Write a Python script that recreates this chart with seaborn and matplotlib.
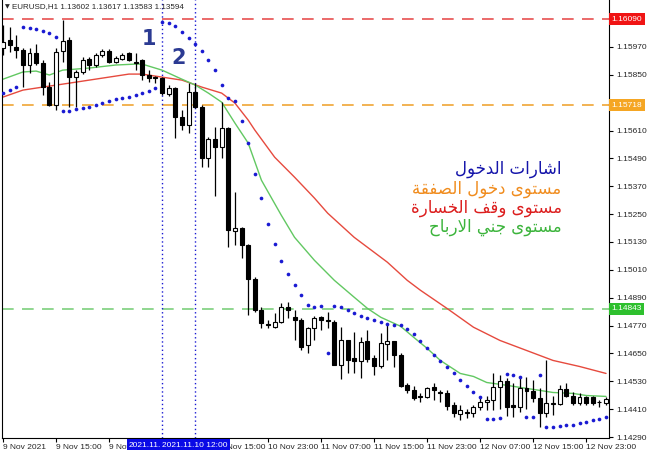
import numpy as np
import matplotlib
matplotlib.use('Agg')
import matplotlib.pyplot as plt
import matplotlib.transforms as mtransforms
import seaborn as sns

# H1 candles, bar 0 = 9 Nov 2021 07:00
opens = [1.15965, 1.15999, 1.15969, 1.15956, 1.15892, 1.15943, 1.15900, 1.15797, 1.15719, 1.15952,
         1.15999, 1.15840, 1.15862, 1.15918, 1.15892, 1.15935, 1.15952, 1.15905, 1.15918, 1.15943,
         1.15905, 1.15913, 1.15849, 1.15840, 1.15836, 1.15767, 1.15793, 1.15668, 1.15633, 1.15775,
         1.15711, 1.15491, 1.15573, 1.15538, 1.15620, 1.15176, 1.15189, 1.15116, 1.14969, 1.14836,
         1.14775, 1.14763, 1.14784, 1.14849, 1.14806, 1.14793, 1.14685, 1.14758, 1.14806, 1.14793,
         1.14784, 1.14599, 1.14706, 1.14629, 1.14616, 1.14702, 1.14629, 1.14594, 1.14689, 1.14702,
         1.14642, 1.14513, 1.14491, 1.14465, 1.14461, 1.14504, 1.14482, 1.14478, 1.14426, 1.14388,
         1.14400, 1.14392, 1.14418, 1.14439, 1.14448, 1.14504, 1.14530, 1.14426, 1.14418, 1.14500,
         1.14487, 1.14457, 1.14392, 1.14431, 1.14431, 1.14495, 1.14469, 1.14435, 1.14461, 1.14461,
         1.14439, 1.14435]
highs = [1.16064, 1.16056, 1.16021, 1.15965, 1.15965, 1.15982, 1.15913, 1.15818, 1.15965, 1.16086,
         1.16012, 1.15870, 1.15926, 1.15926, 1.15943, 1.15961, 1.15961, 1.15931, 1.15943, 1.15948,
         1.15943, 1.15918, 1.15870, 1.15844, 1.15840, 1.15806, 1.15797, 1.15698, 1.15814, 1.15814,
         1.15719, 1.15581, 1.15625, 1.15732, 1.15625, 1.15344, 1.15194, 1.15120, 1.14978, 1.14849,
         1.14793, 1.14823, 1.14866, 1.14870, 1.14836, 1.14801, 1.14763, 1.14810, 1.14810, 1.14827,
         1.14793, 1.14763, 1.14706, 1.14741, 1.14719, 1.14750, 1.14642, 1.14737, 1.14771, 1.14702,
         1.14650, 1.14521, 1.14508, 1.14478, 1.14504, 1.14521, 1.14491, 1.14491, 1.14439, 1.14426,
         1.14413, 1.14426, 1.14469, 1.14469, 1.14564, 1.14556, 1.14543, 1.14521, 1.14547, 1.14547,
         1.14534, 1.14500, 1.14620, 1.14469, 1.14513, 1.14521, 1.14482, 1.14478, 1.14469, 1.14469,
         1.14448, 1.14461]
lows = [1.15935, 1.15948, 1.15922, 1.15797, 1.15857, 1.15892, 1.15762, 1.15715, 1.15698, 1.15905,
        1.15711, 1.15711, 1.15853, 1.15870, 1.15883, 1.15926, 1.15900, 1.15900, 1.15913, 1.15909,
        1.15870, 1.15827, 1.15818, 1.15814, 1.15762, 1.15758, 1.15577, 1.15612, 1.15599, 1.15706,
        1.15452, 1.15452, 1.15327, 1.15491, 1.15107, 1.15116, 1.15060, 1.14814, 1.14827, 1.14758,
        1.14758, 1.14758, 1.14780, 1.14801, 1.14706, 1.14663, 1.14650, 1.14706, 1.14750, 1.14758,
        1.14599, 1.14538, 1.14564, 1.14564, 1.14543, 1.14612, 1.14556, 1.14586, 1.14620, 1.14590,
        1.14504, 1.14478, 1.14448, 1.14439, 1.14457, 1.14448, 1.14439, 1.14405, 1.14375, 1.14362,
        1.14370, 1.14375, 1.14405, 1.14405, 1.14405, 1.14413, 1.14379, 1.14375, 1.14396, 1.14413,
        1.14439, 1.14332, 1.14375, 1.14383, 1.14426, 1.14461, 1.14426, 1.14426, 1.14426, 1.14426,
        1.14418, 1.14426]
closes = [1.15991, 1.15978, 1.15956, 1.15892, 1.15943, 1.15900, 1.15797, 1.15719, 1.15948, 1.15995,
          1.15840, 1.15862, 1.15913, 1.15892, 1.15935, 1.15952, 1.15905, 1.15922, 1.15935, 1.15913,
          1.15900, 1.15849, 1.15836, 1.15836, 1.15771, 1.15793, 1.15668, 1.15633, 1.15775, 1.15711,
          1.15491, 1.15573, 1.15538, 1.15620, 1.15181, 1.15189, 1.15116, 1.14969, 1.14836, 1.14780,
          1.14771, 1.14784, 1.14849, 1.14836, 1.14793, 1.14676, 1.14758, 1.14801, 1.14793, 1.14788,
          1.14599, 1.14706, 1.14620, 1.14616, 1.14698, 1.14625, 1.14594, 1.14694, 1.14702, 1.14642,
          1.14508, 1.14491, 1.14457, 1.14461, 1.14500, 1.14491, 1.14478, 1.14422, 1.14392, 1.14405,
          1.14392, 1.14418, 1.14439, 1.14448, 1.14504, 1.14530, 1.14418, 1.14418, 1.14500, 1.14487,
          1.14457, 1.14392, 1.14435, 1.14435, 1.14495, 1.14469, 1.14435, 1.14461, 1.14435, 1.14435,
          1.14440, 1.14452]

# moving averages (bar index, price)
fast_ma_bar = [0, 3, 5, 7, 9, 13, 17, 20, 21, 24, 27, 29, 31, 33, 35, 37, 39, 42, 44, 47, 50, 53,
               55, 57, 60, 62, 64, 66, 69, 71, 73, 76, 78, 81, 83, 86, 88, 91]
fast_ma = [1.15831, 1.15862, 1.15866, 1.15849, 1.15870, 1.15879, 1.15892, 1.15896, 1.15896, 1.15870,
           1.15831, 1.15806, 1.15771, 1.15732, 1.15642, 1.15556, 1.15396, 1.15245, 1.15150, 1.15051,
           1.14965, 1.14892, 1.14844, 1.14806, 1.14767, 1.14719, 1.14672, 1.14620, 1.14564, 1.14551,
           1.14525, 1.14513, 1.14504, 1.14491, 1.14482, 1.14478, 1.14469, 1.14465]
slow_ma_bar = [0, 3, 6, 10, 13, 16, 19, 21, 24, 27, 30, 33, 35, 37, 38, 41, 44, 47, 49, 53, 58, 61,
               63, 67, 71, 75, 79, 83, 87, 91]
slow_ma = [1.15754, 1.15784, 1.15797, 1.15814, 1.15827, 1.15840, 1.15853, 1.15853, 1.15840, 1.15827,
           1.15797, 1.15771, 1.15728, 1.15655, 1.15612, 1.15495, 1.15409, 1.15319, 1.15254, 1.15150,
           1.15043, 1.14965, 1.14922, 1.14844, 1.14763, 1.14706, 1.14663, 1.14620, 1.14594, 1.14564]

# parabolic SAR, one dot per bar
sar = [1.15771, 1.15784, 1.15797, 1.16056, 1.16051, 1.16047, 1.16038, 1.16030, 1.16012, 1.15693,
       1.15693, 1.15702, 1.15706, 1.15711, 1.15719, 1.15728, 1.15737, 1.15745, 1.15750, 1.15754,
       1.15762, 1.15771, 1.15780, 1.15793, 1.16077, 1.16073, 1.16060, 1.16034, 1.16008, 1.15982,
       1.15952, 1.15913, 1.15870, 1.15806, 1.15750, 1.15737, 1.15650, 1.15556, 1.15422, 1.15319,
       1.15206, 1.15120, 1.15047, 1.14991, 1.14944, 1.14900, 1.14857, 1.14849, 1.14853, 1.14650,
       1.14853, 1.14849, 1.14836, 1.14823, 1.14810, 1.14801, 1.14793, 1.14784, 1.14775, 1.14771,
       1.14771, 1.14754, 1.14732, 1.14702, 1.14672, 1.14642, 1.14616, 1.14590, 1.14564, 1.14534,
       1.14508, 1.14482, 1.14461, 1.14366, 1.14366, 1.14370, 1.14560, 1.14556, 1.14547, 1.14375,
       1.14375, 1.14556, 1.14332, 1.14332, 1.14336, 1.14340, 1.14344, 1.14349, 1.14353, 1.14362,
       1.14366, 1.14375]

# the 10 Nov 07:00 label sits fully under the signal box, so it is left blank
time_labels = ['9 Nov 2021', '9 Nov 15:00', '9 Nov 23:00', '', '10 Nov 15:00',
               '10 Nov 23:00', '11 Nov 07:00', '11 Nov 15:00', '11 Nov 23:00', '12 Nov 07:00',
               '12 Nov 15:00', '12 Nov 23:00']
time_label_bar = [0, 8, 16, 24, 32, 40, 48, 56, 64, 72, 80, 88]

levels = [1.16090, 1.15718, 1.14843]   # stop loss, entry, take profit
level_colors = ['#E85050', '#F0A535', '#7DD07D']
level_box_colors = ['#F01414', '#F5A623', '#2EC02E']

signal_bars = [24, 29]
signal_times = ['2021.11.', '2021.11.10 12:00']   # first box is mostly hidden behind the second

legend_lines = ['اشارات الدخول', 'مستوى دخول الصفقة', 'مستوى وقف الخسارة', 'مستوى جني الارباح']
legend_colors = ['#1414AA', '#F08C1E', '#DC1E1E', '#3CB43C']

# --- arabic shaping (presentation forms, drawn right to left) ---
FORMS = {
    'ا': ('\uFE8D', '\uFE8E', None, None), 'ب': ('\uFE8F', '\uFE90', '\uFE91', '\uFE92'),
    'ة': ('\uFE93', '\uFE94', None, None), 'ت': ('\uFE95', '\uFE96', '\uFE97', '\uFE98'),
    'ج': ('\uFE9D', '\uFE9E', '\uFE9F', '\uFEA0'), 'ح': ('\uFEA1', '\uFEA2', '\uFEA3', '\uFEA4'),
    'خ': ('\uFEA5', '\uFEA6', '\uFEA7', '\uFEA8'), 'د': ('\uFEA9', '\uFEAA', None, None),
    'ر': ('\uFEAD', '\uFEAE', None, None), 'س': ('\uFEB1', '\uFEB2', '\uFEB3', '\uFEB4'),
    'ش': ('\uFEB5', '\uFEB6', '\uFEB7', '\uFEB8'), 'ص': ('\uFEB9', '\uFEBA', '\uFEBB', '\uFEBC'),
    'ف': ('\uFED1', '\uFED2', '\uFED3', '\uFED4'), 'ق': ('\uFED5', '\uFED6', '\uFED7', '\uFED8'),
    'ل': ('\uFEDD', '\uFEDE', '\uFEDF', '\uFEE0'), 'م': ('\uFEE1', '\uFEE2', '\uFEE3', '\uFEE4'),
    'ن': ('\uFEE5', '\uFEE6', '\uFEE7', '\uFEE8'), 'و': ('\uFEED', '\uFEEE', None, None),
    'ى': ('\uFEEF', '\uFEF0', None, None), 'ي': ('\uFEF1', '\uFEF2', '\uFEF3', '\uFEF4'),
    'لا': ('\uFEFB', '\uFEFC', None, None),
}


def shape(s):
    units = []
    i = 0
    while i < len(s):
        if s[i] == 'ل' and i + 1 < len(s) and s[i + 1] == 'ا':
            units.append('لا')
            i += 2
        else:
            units.append(s[i])
            i += 1
    out = []
    for k, u in enumerate(units):
        if u not in FORMS:
            out.append(u)
            continue
        iso, fin, ini, med = FORMS[u]
        prev = units[k - 1] if k > 0 else None
        nxt = units[k + 1] if k + 1 < len(units) else None
        jp = prev in FORMS and FORMS[prev][2] is not None
        jn = ini is not None and nxt in FORMS
        out.append(med if (jp and jn) else fin if jp else ini if jn else iso)
    return ''.join(reversed(out))


sns.set_style('white')
plt.rcParams['font.family'] = ['Liberation Sans', 'DejaVu Sans']

fig = plt.figure(figsize=(6.5, 4.5), dpi=100)
ax = fig.add_axes([2 / 650, 12 / 450, 607 / 650, 438 / 450])

bars = np.arange(len(opens))
o = np.array(opens)
c = np.array(closes)
up = c >= o

# wicks + bodies
ax.vlines(bars, lows, highs, color='black', lw=0.9, zorder=3)
ax.bar(bars[up], (c - o)[up], bottom=o[up], width=0.6, color='white', edgecolor='black', lw=0.8, zorder=4)
ax.bar(bars[~up], (o - c)[~up], bottom=c[~up], width=0.6, color='black', edgecolor='black', lw=0.8, zorder=4)

sns.lineplot(x=slow_ma_bar, y=slow_ma, ax=ax, color='#E64A3E', lw=1.0, zorder=2)
sns.lineplot(x=fast_ma_bar, y=fast_ma, ax=ax, color='#62C862', lw=1.0, zorder=2)
sns.scatterplot(x=bars, y=sar, ax=ax, color='#1A1AD2', s=7, linewidth=0, zorder=5)

for lv, col in zip(levels, level_colors):
    ax.axhline(lv, color=col, lw=1.2, ls=(0, (7, 5)), zorder=1)
for sb in signal_bars:
    ax.axvline(sb, color='#1A1AD2', lw=1.0, ls=(0, (1, 2)), zorder=1)

ax.text(22, 1.16004, '1', color='#2B3A92', fontsize=15, fontweight='bold', ha='center', va='center',
        family='DejaVu Sans')
ax.text(26.5, 1.15922, '2', color='#2B3A92', fontsize=15, fontweight='bold', ha='center', va='center',
        family='DejaVu Sans')

for k, (txt, col) in enumerate(zip(legend_lines, legend_colors)):
    ax.text(84.3, 1.15443 - k * 0.00083, shape(txt), color=col, fontsize=12, ha='right', va='center',
            family='DejaVu Sans')

ax.set_xlim(-0.15, 91.45)
ax.set_ylim(1.14286, 1.16172)

ax.yaxis.tick_right()
yt = [1.14290 + k * 0.0012 for k in range(15) if k != 12]
ax.set_yticks(yt)
ax.set_yticklabels([f'{v:.5f}' for v in yt])
ax.set_xticks(time_label_bar)
ax.set_xticklabels(time_labels, ha='left')
ax.tick_params(axis='both', labelsize=6, length=3, width=0.8, color='black', pad=1.2, direction='out')
ax.tick_params(axis='y', right=True, left=False, pad=2)
ax.tick_params(axis='x', bottom=True)

for side in ['left', 'bottom', 'right']:
    ax.spines[side].set_color('black')
    ax.spines[side].set_linewidth(0.8)
ax.spines['top'].set_visible(False)

ty = mtransforms.blended_transform_factory(ax.transAxes, ax.transData)
for lv, col in zip(levels, level_box_colors):
    ax.text(1.004, lv, f'{lv:.5f}', transform=ty, ha='left', va='center', fontsize=6, color='white',
            bbox=dict(boxstyle='square,pad=0.3', fc=col, ec='none'), clip_on=False, zorder=6)

tx = mtransforms.blended_transform_factory(ax.transData, ax.transAxes)
ax.text(signal_bars[0] - 0.15, -0.016, signal_times[0], transform=tx, ha='right', va='center', fontsize=6,
        color='white', bbox=dict(boxstyle='square,pad=0.25', fc='#0A0AE6', ec='none'), clip_on=False, zorder=6)
ax.text(signal_bars[1], -0.016, signal_times[1], transform=tx, ha='center', va='center', fontsize=6,
        color='white', bbox=dict(boxstyle='square,pad=0.25', fc='#0A0AE6', ec='none'), clip_on=False, zorder=6)

ax.text(0.005, 0.984, '▼', transform=ax.transAxes, fontsize=4.5, va='center', ha='left', family='DejaVu Sans')
ax.text(0.0165, 0.984, 'EURUSD,H1 1.13602 1.13617 1.13583 1.13594', transform=ax.transAxes,
        fontsize=5.8, va='center', ha='left')

fig.savefig('out.png', dpi=100)
